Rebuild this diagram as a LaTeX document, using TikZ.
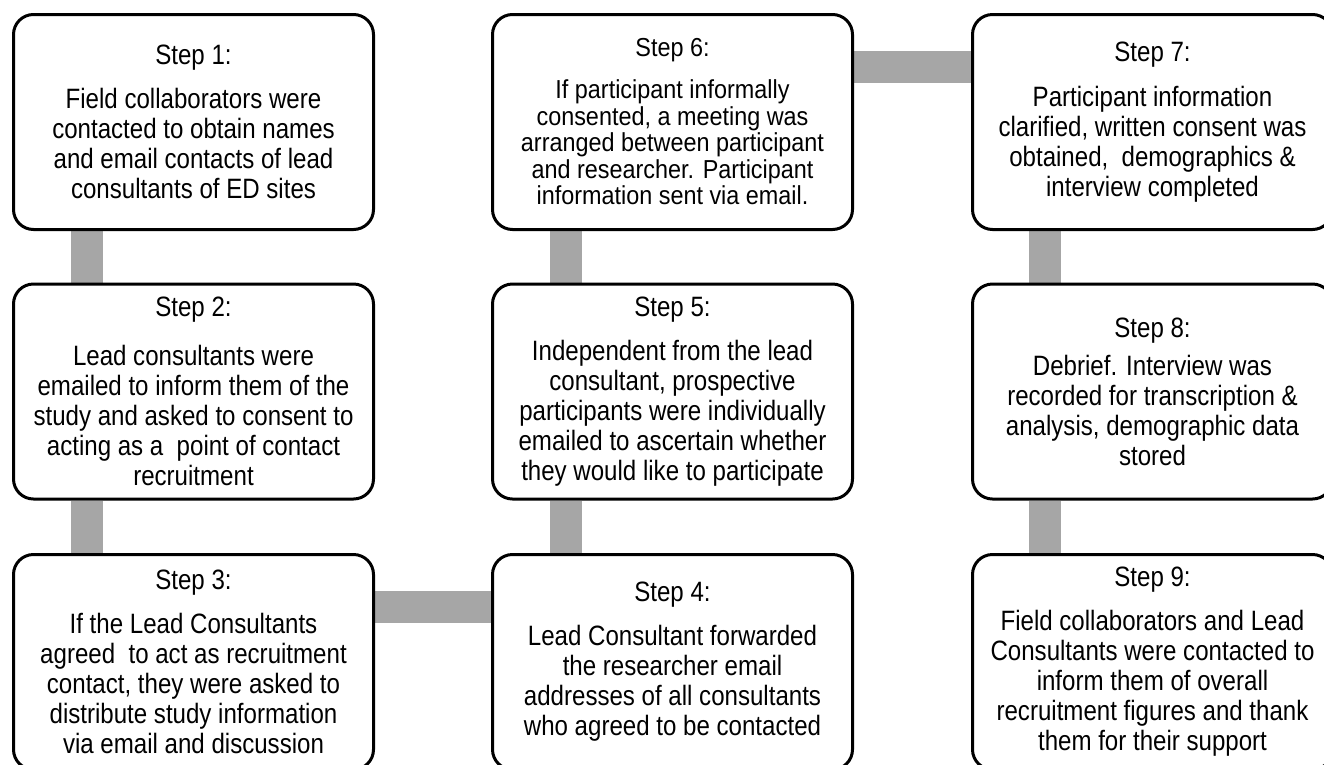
\documentclass[tikz,border=0pt]{standalone}
\usepackage{fontspec}
\setmainfont{Liberation Sans}[FakeStretch=0.86]
\newfontfamily\sixfont{Liberation Sans}[FakeStretch=0.9]
\usetikzlibrary{backgrounds}
\definecolor{connGray}{HTML}{A6A6A6}
\begin{document}
\begin{tikzpicture}[x=1pt,y=-1pt,
  stepbox/.style={draw=black, line width=3pt, fill=white, rounded corners=20pt,
    minimum width=360pt, minimum height=215pt, align=center, inner sep=0pt,
    font=\fontsize{28}{30}\selectfont},
  smalltext/.style={font=\sixfont\fontsize{26}{26.5}\selectfont},
  conn/.style={draw=connGray, line width=32pt}]
\useasboundingbox (0,0) rectangle (1324,764);
\clip (0,0) rectangle (1324,764);

\node[stepbox] (s1) at (193.5,122) {Step 1:\\[14pt]Field collaborators were\\contacted to obtain names\\and email contacts of lead\\consultants of ED sites};
\node[stepbox] (s2) at (193.5,391.5) {Step 2:\\[19pt]Lead consultants were\\emailed to inform them of the\\study and asked to consent to\\acting as a\ \ point of contact\\recruitment};
\node[stepbox] (s3) at (193.5,662) {Step 3:\\[14pt]If the Lead Consultants\\agreed\ \ to act as recruitment\\contact, they were asked to\\distribute study information\\via email and discussion};

\node[stepbox] (s4) at (672.5,662) {Step 4:\\[14pt]Lead Consultant forwarded\\the researcher email\\addresses of all consultants\\who agreed to be contacted};
\node[stepbox] (s5) at (672.5,391.5) {Step 5:\\[14pt]Independent from the lead\\consultant, prospective\\participants were individually\\emailed to ascertain whether\\they would like to participate};
\node[stepbox, smalltext] (s6) at (672.5,122) {Step 6:\\[15.5pt]If participant informally\\consented, a meeting was\\arranged between participant\\and researcher. Participant\\information sent via email.};

\node[stepbox] (s7) at (1152.5,122) {Step 7:\\[15pt]Participant information\\clarified, written consent was\\obtained,\ \ demographics \&\\interview completed};
\node[stepbox] (s8) at (1152.5,391.5) {Step 8:\\[8pt]Debrief. Interview was\\recorded for transcription \&\\analysis, demographic data\\stored};
\node[stepbox] (s9) at (1152.5,662) {Step 9:\\[14pt]Field collaborators and Lead\\Consultants were contacted to\\inform them of overall\\recruitment figures and thank\\them for their support};

\begin{pgfonlayer}{background}
\fill[white] (0,0) rectangle (1324,764);
\draw[conn] ([xshift=74.5pt]s1.south west) -- ([xshift=74.5pt]s2.north west);
\draw[conn] ([xshift=74.5pt]s2.south west) -- ([xshift=74.5pt]s3.north west);
\draw[conn] ([yshift=-54pt]s3.north east) -- ([yshift=-54pt]s4.north west);
\draw[conn] ([xshift=74.5pt]s4.north west) -- ([xshift=74.5pt]s5.south west);
\draw[conn] ([xshift=74.5pt]s5.north west) -- ([xshift=74.5pt]s6.south west);
\draw[conn] ([yshift=-53.5pt]s6.north east) -- ([yshift=-53.5pt]s7.north west);
\draw[conn] ([xshift=74pt]s7.south west) -- ([xshift=74pt]s8.north west);
\draw[conn] ([xshift=74pt]s8.south west) -- ([xshift=74pt]s9.north west);
\end{pgfonlayer}
\end{tikzpicture}
\end{document}
